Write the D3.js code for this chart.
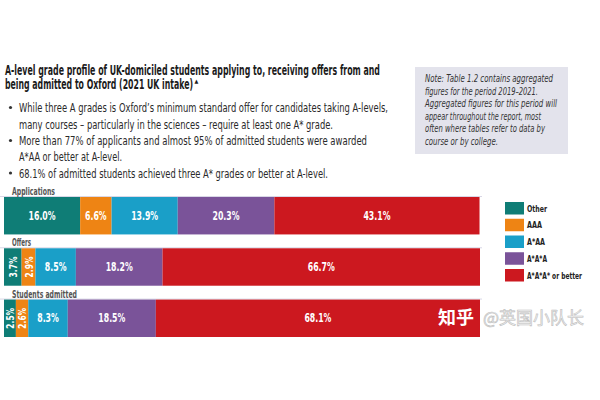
<!DOCTYPE html>
<html><head><meta charset="utf-8">
<script src="https://cdn.jsdelivr.net/npm/d3@7"></script>
<style>
html,body{margin:0;padding:0;background:#fff;}
svg{display:block;}
text{font-family:"Liberation Sans Narrow","DejaVu Sans Condensed","Roboto",sans-serif;}
</style></head>
<body>
<svg id="chart" width="600" height="400"></svg>
<script>
const categories = ["Other","AAA","A*AA","A*A*A","A*A*A* or better"];
const rowLabels = ["Applications","Offers","Students admitted"];
const applications = [16.0,6.6,13.9,20.3,43.1];
const offers = [3.7,2.9,8.5,18.2,66.7];
const admitted = [2.5,2.6,8.3,18.5,68.1];
const colors = ["#0f7d76","#ee8414","#1a9fc8","#7a5399","#cc181f"];

const titleLines = [
  "A-level grade profile of UK-domiciled students applying to, receiving offers from and",
  "being admitted to Oxford (2021 UK intake)"
];
const bullets = [
  ["While three A grades is Oxford’s minimum standard offer for candidates taking A-levels,",
   "many courses – particularly in the sciences – require at least one A* grade."],
  ["More than 77% of applicants and almost 95% of admitted students were awarded",
   "A*AA or better at A-level."],
  ["68.1% of admitted students achieved three A* grades or better at A-level."]
];
const noteLines = [
  "Note: Table 1.2 contains aggregated",
  "figures for the period 2019–2021.",
  "Aggregated figures for this period will",
  "appear throughout the report, most",
  "often where tables refer to data by",
  "course or by college."
];

const svg = d3.select("#chart");

// Title
const tw = [375, 188];
const tb = [75, 89];
titleLines.forEach((t,i)=>{
  const el = svg.append("text").attr("x",5).attr("y",tb[i])
    .attr("font-size",13.5).attr("font-weight","bold").attr("fill","#1b1b1b");
  el.append("tspan").text(t).attr("textLength",tw[i]).attr("lengthAdjust","spacingAndGlyphs");
  if(i===1) el.append("tspan").text("▲").attr("font-size",5.5).attr("dy",-6).attr("dx",1.5);
});

// Bullets
const bw = [[369,314],[348,103],[309]];
const bb = [[112,128.5],[145,161],[177.5]];
bullets.forEach((lines,i)=>{
  svg.append("circle").attr("cx",10.5).attr("cy",bb[i][0]-4.5).attr("r",1.6).attr("fill","#333");
  lines.forEach((l,j)=>{
    svg.append("text").attr("x",19).attr("y",bb[i][j]).attr("font-size",13).attr("fill","#2a2a2a")
      .text(l).attr("textLength",bw[i][j]).attr("lengthAdjust","spacingAndGlyphs");
  });
});

// Note box
svg.append("rect").attr("x",415).attr("y",67).attr("width",153).attr("height",87).attr("fill","#e3e3ec");
const nw = [128,113,132,116,120,73];
noteLines.forEach((l,i)=>{
  svg.append("text").attr("x",425).attr("y",82+i*12.6).attr("font-size",10)
    .attr("font-style","italic").attr("fill","#333")
    .text(l).attr("textLength",nw[i]).attr("lengthAdjust","spacingAndGlyphs");
});

// Bars
const x = d3.scaleLinear().domain([0,100]).range([4,480]);
const y = d3.scaleBand().domain(rowLabels).range([197,337]).paddingInner(0.27).paddingOuter(0);
const series = [applications, offers, admitted];
const table = rowLabels.map((r,i)=>{
  const o = {row:r};
  categories.forEach((c,j)=>o[c]=series[i][j]);
  return o;
});
const stack = d3.stack().keys(categories)(table);

const rowLabelW = {"Applications":43,"Offers":19,"Students admitted":65};
rowLabels.forEach((r)=>{
  svg.append("line").attr("x1",0).attr("x2",482).attr("y1",y(r)-0.5).attr("y2",y(r)-0.5)
    .attr("stroke","#d9d7e6").attr("stroke-width",1);
  svg.append("text").attr("x",12).attr("y",y(r)-2).attr("font-size",10.5).attr("font-weight","bold")
    .attr("fill","#555").text(r).attr("textLength",rowLabelW[r]).attr("lengthAdjust","spacingAndGlyphs");
});

stack.forEach((layer,k)=>{
  const g = svg.append("g");
  layer.forEach((d)=>{
    const r = d.data.row;
    const x0 = x(d[0]), x1 = x(d[1]);
    g.append("rect").attr("x",x0).attr("y",y(r)).attr("width",x1-x0).attr("height",y.bandwidth())
      .attr("fill",colors[k]);
    const v = d[1]-d[0];
    const cx = (x0+x1)/2, cy = y(r)+y.bandwidth()/2;
    const lab = v.toFixed(1)+"%";
    if(x1-x0 < 22){
      g.append("text").attr("transform",`translate(${cx+4},${cy}) rotate(-90)`)
        .attr("text-anchor","middle").attr("font-size",11).attr("font-weight","bold")
        .attr("fill","#fff").text(lab).attr("textLength",lab.length*5.2).attr("lengthAdjust","spacingAndGlyphs");
    } else {
      g.append("text").attr("x",cx).attr("y",cy+4).attr("text-anchor","middle")
        .attr("font-size",11.5).attr("font-weight","bold").attr("fill","#fff").text(lab)
        .attr("textLength",lab.length*5.4).attr("lengthAdjust","spacingAndGlyphs");
    }
  });
});

// Legend
const legW = [20,15,18,20,55];
categories.forEach((c,i)=>{
  const yy = 202 + i*16.75;
  svg.append("rect").attr("x",505).attr("y",yy).attr("width",19).attr("height",12.5).attr("fill",colors[i]);
  svg.append("text").attr("x",527).attr("y",yy+9.5).attr("font-size",9.5).attr("font-weight","bold")
    .attr("fill","#222").text(c).attr("textLength",legW[i]).attr("lengthAdjust","spacingAndGlyphs");
});

// Watermark
svg.append("text").attr("x",438).attr("y",324)
  .attr("font-size",18).attr("font-weight","bold").attr("fill","#fff")
  .attr("style","font-family:'Noto Sans CJK SC'").text("知乎");
svg.append("text").attr("x",483).attr("y",324)
  .attr("font-size",17).attr("fill","#f2f2f2").attr("stroke","#bdbdbd").attr("stroke-width",0.6)
  .attr("style","font-family:'Noto Sans CJK SC'").text("@英国小队长");
</script>
</body></html>
